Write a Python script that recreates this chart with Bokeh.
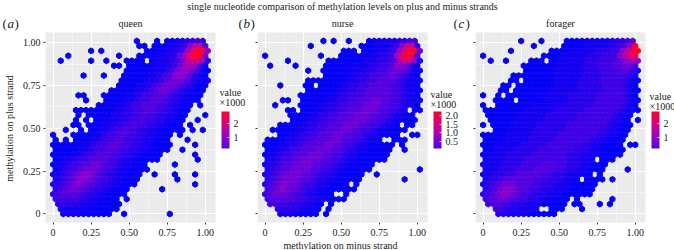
import math
from bokeh.embed import file_html
from bokeh.resources import INLINE
from bokeh.plotting import figure
from bokeh.layouts import column, row
from bokeh.models import ColumnDataSource, Label, FixedTicker, ColorBar, LinearColorMapper, AllLabels
from bokeh.transform import linear_cmap

TITLE = "single nucleotide comparison of methylation levels on plus and minus strands"
PANELS = ["queen", "nurse", "forager"]
TICKS = [0, 0.25, 0.5, 0.75, 1.0]
MINOR = [0.125, 0.375, 0.625, 0.875]
TICK_LABELS = {0: "0", 0.25: "0.25", 0.5: "0.50", 0.75: "0.75", 1: "1.00"}
NO_LABELS = {0: "", 0.25: "", 0.5: "", 0.75: "", 1: ""}
XLABEL = "methylation on minus strand"
YLABEL = "methylation on plus strand"

# Hexagon cells, top row first. Each entry "col:levels" is a run
# of occupied cells starting at a column; a level is a hex digit, 0 (a few sites) to f (the peak).
queen_rows = [
"16:0 20:0 22:00112232",
"17:00 20:00011236ab4",
"7:0 9:0 18:000011237cff7",
"3:0 13:0 17:0000112258dff5",
"1:0 7:0 10:0 14:0000 19:01112359cc82",
"12:00 15:0000011123578730",
"14:00000011235675310",
"6:0 10:0 14:00000112346664210",
"13:000001123455542110",
"13:000011234555432100",
"11:0000011234554321100",
"5:00 10:00000112334443211000",
"6:0 10:0000112334443221100",
"9:0000112334443321100 29:0",
"4:00000000112233443322100",
"5:0 7:00000112233433221100 30:0",
"4:0 6:0 8:000112233433221100 28:0",
"4:00 7:0001122334332211000 27:0",
"2:0 5:0 7:0011233433221100000 27:0 29:0",
"0:0 4:00 6:001123344332211000 25:0",
"0:0 2:0 4:0001123344332211000 26:0",
"0:000000112334443322110000 28:0",
"0:00000112334443322110000 25:0",
"0:0000112334443322110000 28:0",
"0:001123344443321100000 28:0",
"0:0112334455433211000 24:0",
"0:0123345554332110000",
"0:112345665432211000 20:0 24:0 28:0",
"0:12345665433211000 24:0",
"0:22345654432211000 28:0",
"0:234554432211000 21:0",
"0:234444322110000",
"0:3333322110000 14:0",
"1:2322211100000",
"1:111111000000",
"2:1111000000 14:0 23:0",
]

nurse_rows = [
"11:0 13:0 16:0 20:0011112233",
"9:0 19:000111236bc2",
"15:000 19:00111237cff5",
"0:0 11:0 15:000001112238dfe3",
"4:0 12:000000011122348cc71",
"1:0 6:0 12:0000001112233466520",
"8:0 11:00000011122334554310",
"12:0000011223344543210",
"8:00000000112233444432110",
"3:0 8:00 11:00001122334444332110",
"8:00000011223344444332110",
"7:000000112233344444332110",
"3:00 7:000001122334445544332110",
"2:0 7:000011223344455544332110",
"4:00 7:000112233444555443321 29:10",
"5:00 7:00112233444555443321100",
"5:0001122334445554433211000",
"3:000011223344455544332110 28:00",
"1:000001122334445544332110000",
"3:001122334445544332110000 29:00",
"0:00001122334445544332110 25:000",
"0:00011223444455443321100000 27:0",
"0:0011233444555443221100000 27:0",
"0:0112334445554433211000000",
"0:112334455554433211000000",
"0:1223445555443321100000",
"0:123445555443321100000 30:0",
"0:22345555443221100000 22:0",
"0:2345555443221100000 27:0",
"0:23456554332110000 18:0",
"0:345654432211000000",
"0:34555433211000 16:0",
"0:3444443322110000",
"1:33332221100 13:0",
"2:222221110 12:0",
"3:11110000 12:0",
]

forager_rows = [
"7:0 11:0 16:00000111112234",
"10:0 16:00001111122347f",
"5:0 13:000011111222336aef",
"0:0 12:00001111122233369ce",
"1:0 4:0 9:000 13:001111122233345797",
"8:00000001111122233344553",
"8:00000011111122233334431",
"6:0000000011111122223333321",
"5:00 8:00000011111222233333210",
"4:00 7:000000011111222223333210",
"3:00 6:0000000111111222223333210",
"0:0 3:0 5:00000011111122222233333210",
"2:0000 7:000001111122222333333210",
"0:0 3:0000000111111222222333333210",
"0:0000000011111122222233333332110",
"1:00000011111122222233333332110",
"1:0000011111122222233333332210 30:0",
"0:0 2:0000111112222223333333321100",
"2:000111112222223333333221100",
"0:00000111112222233333333221100",
"0:0000111112222233333332211000",
"0:0001111122222333333322110000 29:00",
"0:0011112222233333332221100000",
"0:0111122222333333322211100000",
"0:0111222233333333322111 23:000",
"0:1111222233334443322211000",
"0:111222333344443322211000 28:0",
"0:1122233444443322211100 23:0",
"0:1223444444333222110 20:0000 25:0",
"0:12345554443322211100000",
"0:2345665443322211100000",
"0:2345665433222111000000",
"0:34455443322111000 18:0 25:0",
"1:34433222111 12:00000 18:00 23:0 25:0",
"2:332221111 13:000 19:0",
"3:221111100000",
]

# share of each panel's peak count that a level stands for
LEVEL_SHARE = [0.0, 0.03, 0.07, 0.11, 0.15, 0.20, 0.26, 0.33, 0.40, 0.47, 0.55, 0.63, 0.72, 0.82, 0.91, 1.0]
VMAX = [2900, 2300, 2900]
LEGEND_LOW = [200, 100, 200]
LEGEND_HIGH = [2860, 2230, 2860]
LEGEND_TICKS = [[1000, 2000], [500, 1000, 1500, 2000], [1000, 2000]]
LEGEND_LABELS = [{1000: "1", 2000: "2"},
                 {500: "0.5", 1000: "1.0", 1500: "1.5", 2000: "2.0"},
                 {1000: "1", 2000: "2"}]

FONT = "Liberation Serif"
STOPS = [(4, 0, 245), (138, 0, 208), (186, 0, 165), (224, 0, 112), (255, 0, 40)]
def ramp(stops, n=256):
    out = []
    for t in range(n):
        u = t / (n - 1) * (len(stops) - 1)
        i = min(int(u), len(stops) - 2)
        f = u - i
        out.append("#%02x%02x%02x" % tuple(round(stops[i][j] + (stops[i + 1][j] - stops[i][j]) * f) for j in range(3)))
    return out
CELL_PALETTE = ramp(STOPS)
BAR_PALETTE = ramp([(74, 14, 214)] + STOPS[1:])

def decode(rows, vmax):
    xs, ys, vals = [], [], []
    dx = 1 / 30
    dy = dx * math.sqrt(3) / 2
    n = len(rows)
    for idx, r in enumerate(rows):
        k = n - 1 - idx
        for part in r.split():
            s, lv = part.split(":")
            for j, ch in enumerate(lv):
                i = int(s) + j
                if i > 30:
                    continue
                xs.append((i + (0.5 if k % 2 else 0)) * dx)
                ys.append(k * dy)
                vals.append(max(1, LEVEL_SHARE[int(ch, 16)] * vmax))
    return xs, ys, vals

def panel(idx, rows, width, left, right):
    p = figure(width=width, height=250, output_backend="svg", toolbar_location=None,
               x_range=(-0.05, 1.067), y_range=(-0.05, 1.06),
               min_border_left=left, min_border_right=right, min_border_top=32, min_border_bottom=28)
    p.background_fill_color = "#ebebeb"
    p.border_fill_color = None
    p.outline_line_color = None
    p.xgrid.ticker = FixedTicker(ticks=TICKS, minor_ticks=MINOR)
    p.ygrid.ticker = FixedTicker(ticks=TICKS, minor_ticks=MINOR)
    p.grid.grid_line_color = "white"
    p.grid.grid_line_width = 1
    p.grid.minor_grid_line_color = "white"
    p.grid.minor_grid_line_width = 0.5
    for ax in (p.xaxis[0], p.yaxis[0]):
        ax.ticker = FixedTicker(ticks=TICKS)
        ax.major_label_overrides = TICK_LABELS
        ax.axis_line_color = None
        ax.major_tick_line_color = "#333333"
        ax.major_tick_in = 0
        ax.major_tick_out = 2
        ax.minor_tick_line_color = None
        ax.major_label_text_font = FONT
        ax.major_label_text_font_size = "10px"
        ax.major_label_text_color = "#1a1a1a"
        ax.major_label_standoff = 3
    p.xaxis[0].major_label_standoff = 4
    if idx != 0:
        p.yaxis[0].major_label_overrides = NO_LABELS
        p.yaxis[0].major_label_standoff = 0

    xs, ys, vals = decode(rows, VMAX[idx])
    src = ColumnDataSource(dict(x=xs, y=ys, value=vals))
    cmap = linear_cmap("value", CELL_PALETTE, 1, VMAX[idx])
    p.scatter("x", "y", source=src, marker="hex", size=5.9, angle=math.pi / 2,
              fill_color=cmap, line_color=cmap, line_width=1)

    mapper = LinearColorMapper(palette=BAR_PALETTE, low=LEGEND_LOW[idx], high=LEGEND_HIGH[idx])
    cb = ColorBar(color_mapper=mapper, width=8, height=37, location=(176, 74), padding=0, margin=0,
                  ticker=FixedTicker(ticks=LEGEND_TICKS[idx]), major_label_overrides=LEGEND_LABELS[idx],
                  major_label_policy=AllLabels(),
                  major_tick_line_color="white", major_tick_line_width=0.7, major_tick_in=2, minor_tick_line_color=None,
                  bar_line_color=None, background_fill_color=None, border_line_color=None,
                  major_label_text_font=FONT, major_label_text_font_size="10px", major_label_text_color="#1a1a1a",
                  label_standoff=4)
    p.add_layout(cb, "center")
    return p

a = panel(0, queen_rows, 244, 45, 29)
b = panel(1, nurse_rows, 226, 13, 43)
c = panel(2, forager_rows, 204, 5, 29)

# A transparent page-sized figure holds the texts that lie outside the three frames.
over = figure(width=674, height=250, output_backend="svg", toolbar_location=None,
              x_range=(0, 674), y_range=(250, 0), min_border=0,
              background_fill_color=None, border_fill_color=None, outline_line_color=None)
over.margin = (-250, 0, 0, 0)
over.axis.visible = False
over.grid.visible = False

def text(x, y, s, size="10px", angle=0, align="left", style="normal"):
    over.add_layout(Label(x=x, y=y, text=s, angle=angle, angle_units="deg",
                          text_font=FONT, text_font_size=size, text_font_style=style, text_align=align,
                          text_baseline="middle", text_color="#1a1a1a"))

text(342, 6, TITLE, size="10px", align="center")
for name, xc in zip(PANELS, [130, 342, 560]):
    text(xc, 23, name, align="center")
for lx, letter in zip([2, 238, 453], "abc"):
    text(lx, 23, "(", size="13px")
    text(lx + 5, 23, letter, size="13px", style="italic")
    text(lx + 12, 23, ")", size="13px")
for lx, ly in zip([219, 430, 649], [92, 94, 96]):
    text(lx, ly, "value")
    text(lx, ly + 10, "\u00d71000")
text(9, 128, YLABEL, angle=90, align="center")
text(340, 245, XLABEL, align="center")

layout = column(row(a, b, c, spacing=0), over, spacing=0)
open("out.html", "w").write(file_html(layout, INLINE))
